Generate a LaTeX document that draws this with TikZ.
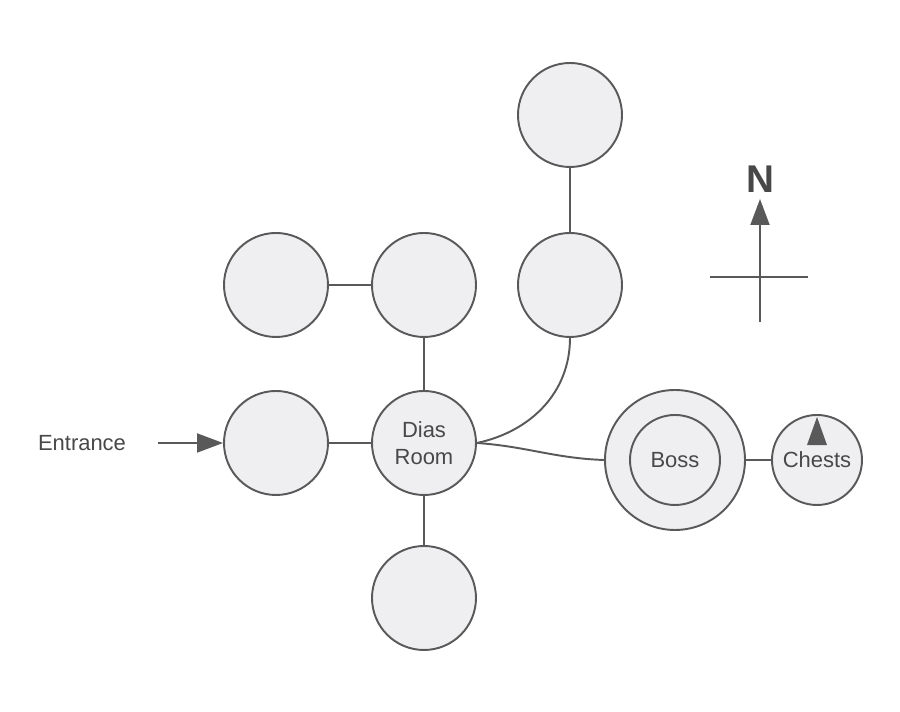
\documentclass[tikz,border=0pt]{standalone}
\usepackage{fontspec}
\setmainfont{Liberation Sans}
\usepackage{tikz}
\usetikzlibrary{arrows.meta, positioning}
\definecolor{roomFill}{HTML}{EFEFF2}
\definecolor{roomLine}{HTML}{595959}
\definecolor{labelGray}{HTML}{484848}

\begin{document}
\begin{tikzpicture}[
  node distance=3.16cm and 2.96cm, on grid,
  room/.style={circle, draw=roomLine, fill=roomFill, line width=1.1pt, minimum size=2.08cm, inner sep=0pt, align=center, text=labelGray, font=\fontsize{12.5}{15}\selectfont},
  small/.style={room, minimum size=1.8cm},
  link/.style={draw=roomLine, line width=1.1pt},
  arrow/.style={link, -{Triangle[length=0.52cm, width=0.38cm]}},
]
\useasboundingbox (-8.48,-5.38) rectangle (9.52,8.86);

% rooms
\node[room] (dias) at (0,0) {Dias\\Room};
\node[room, left=of dias] (west) {};
\node[room, below=3.1cm of dias] (south) {};
\node[room, above=of dias] (hall) {};
\node[room, left=of hall] (nook) {};
\node[room, right=2.92cm of hall] (tower) {};
\node[room, above=3.4cm of tower] (top) {};

% boss and chests
\node[room, minimum size=2.8cm] (boss) at (5.02,-0.34) {};
\node[small, fill=none] (bosscore) at (boss) {Boss};
\node[small, right=2.84cm of boss] (chests) {Chests};

% entrance
\node[text=labelGray, font=\fontsize{12.5}{15}\selectfont] (entrance) at (-6.84,0) {Entrance};
\coordinate (entry) at (-5.32,0);

% compass
\coordinate (compass) at (6.72,3.32);
\coordinate (compS) at (6.72,2.42);
\coordinate (compN) at (6.72,4.88);
\coordinate (compW) at (5.72,3.32);
\coordinate (compE) at (7.68,3.32);
\node[text=labelGray, font=\fontsize{22}{24}\selectfont\bfseries] (north) at (6.72,5.28) {N};

\draw[link] (top) -- (tower);
\draw[link] (nook) -- (hall);
\draw[link] (hall) -- (dias);
\draw[link] (west) -- (dias);
\draw[link] (dias) -- (south);
\draw[link] (tower.south) to[out=-90, in=12] (dias.east);
\draw[link] (dias.east) to[out=-4, in=178] (boss.west);
\draw[link] (boss) -- (chests);
\draw[arrow] (entry) -- (west);

\draw[arrow] (compS) -- (compN);
\draw[link] (compW) -- (compE);

\fill[roomLine] ([yshift=-0.06cm]chests.north) -- ++(-0.2,-0.56) -- ++(0.4,0) -- cycle;

\end{tikzpicture}
\end{document}
